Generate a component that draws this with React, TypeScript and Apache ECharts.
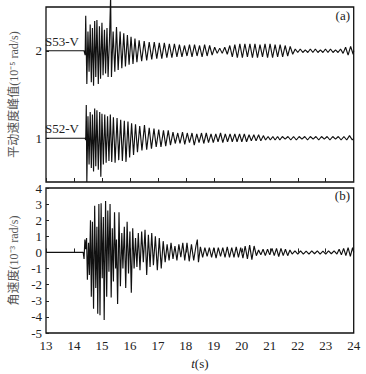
import React, { useEffect, useRef } from "react";
import * as echarts from "echarts";

const xTicks = [13, 14, 15, 16, 17, 18, 19, 20, 21, 22, 23, 24];
const topYTicks = [1, 2];

const S53: [number, number][] = [
  [13.0, 2.0], [14.36, 2.0],
  [14.40, 1.95], [14.42, 2.40], [14.46, 1.62], [14.50, 2.22], [14.54, 1.76], [14.58, 2.30], [14.62, 1.64],
  [14.66, 2.26], [14.70, 1.60], [14.74, 2.34], [14.78, 1.70], [14.82, 2.35], [14.87, 1.62], [14.91, 2.28],
  [14.95, 1.68], [15.00, 2.32], [15.04, 1.72], [15.09, 2.24], [15.13, 1.74], [15.18, 2.26], [15.22, 1.70],
  [15.27, 2.14], [15.31, 2.62], [15.34, 1.70],
  [15.40, 2.22], [15.46, 1.76], [15.52, 2.27], [15.58, 1.78], [15.65, 2.22], [15.71, 1.80], [15.78, 2.20],
  [15.84, 1.82], [15.91, 2.18], [15.97, 1.84], [16.04, 2.16], [16.11, 1.85], [16.18, 2.14], [16.25, 1.87],
  [16.33, 2.12], [16.42, 1.88], [16.51, 2.11], [16.60, 1.89], [16.69, 2.10], [16.78, 1.90], [16.87, 2.10],
  [16.96, 1.91], [17.05, 2.09], [17.14, 1.91], [17.23, 2.09], [17.32, 1.92], [17.41, 2.08], [17.50, 1.92],
  [17.59, 2.08], [17.68, 1.93], [17.77, 2.07], [17.86, 1.93], [17.95, 2.06], [18.04, 1.94], [18.13, 2.07],
  [18.22, 1.93], [18.31, 2.07], [18.40, 1.94], [18.49, 2.06], [18.58, 1.93], [18.67, 2.07], [18.76, 1.94],
  [18.85, 2.06], [18.94, 1.95], [19.03, 2.04], [19.12, 1.97], [19.21, 2.03], [19.30, 1.97], [19.39, 2.04],
  [19.48, 1.96], [19.57, 2.06], [19.66, 1.93], [19.75, 2.07], [19.84, 1.92], [19.93, 2.08], [20.02, 1.92],
  [20.11, 2.08], [20.20, 1.93], [20.29, 2.08], [20.38, 1.92], [20.47, 2.08], [20.56, 1.92], [20.65, 2.07],
  [20.74, 1.93], [20.83, 2.08], [20.92, 1.92], [21.01, 2.08], [21.10, 1.92], [21.19, 2.07], [21.28, 1.93],
  [21.37, 2.07], [21.46, 1.93], [21.55, 2.06], [21.64, 1.94], [21.73, 2.05], [21.82, 1.96], [21.91, 2.02],
  [22.00, 1.98], [22.09, 2.02], [22.18, 1.98], [22.27, 2.01], [22.36, 1.98], [22.45, 2.02], [22.54, 1.98],
  [22.63, 2.02], [22.72, 1.98], [22.81, 2.01], [22.90, 1.98], [22.99, 2.02], [23.08, 1.98], [23.17, 2.02],
  [23.26, 1.98], [23.35, 2.01], [23.44, 1.98], [23.53, 2.02], [23.62, 1.97], [23.71, 2.04], [23.80, 1.95],
  [23.89, 2.05], [23.98, 1.96], [24.0, 2.0],
];

const S52: [number, number][] = [
  [13.0, 1.0], [14.40, 1.0],
  [14.42, 0.98], [14.44, 1.38], [14.46, 0.50], [14.50, 1.25], [14.54, 0.70], [14.58, 1.30], [14.62, 0.66],
  [14.66, 1.27], [14.70, 0.62], [14.74, 1.34], [14.78, 0.68], [14.82, 1.32], [14.87, 0.64], [14.92, 1.30],
  [14.96, 0.56], [15.00, 1.28], [15.05, 0.70], [15.10, 1.27], [15.15, 0.72], [15.20, 1.25], [15.25, 0.74],
  [15.30, 1.27], [15.35, 0.73],
  [15.41, 1.24], [15.47, 0.72], [15.54, 1.23], [15.60, 0.75], [15.67, 1.21], [15.73, 0.74], [15.80, 1.20],
  [15.86, 0.73], [15.93, 1.19], [15.99, 0.78], [16.06, 1.17], [16.13, 0.81], [16.20, 1.16], [16.27, 0.84],
  [16.35, 1.14], [16.43, 0.86], [16.52, 1.15], [16.60, 0.87], [16.69, 1.12], [16.77, 0.88], [16.86, 1.11],
  [16.94, 0.90], [17.03, 1.10], [17.11, 0.90], [17.20, 1.09], [17.28, 0.91], [17.37, 1.09], [17.45, 0.92],
  [17.54, 1.07], [17.62, 0.94], [17.71, 1.06], [17.79, 0.94], [17.88, 1.07], [17.96, 0.93], [18.05, 1.06],
  [18.13, 0.95], [18.22, 1.06], [18.30, 0.92], [18.39, 1.05], [18.47, 0.95], [18.56, 1.06], [18.64, 0.94],
  [18.73, 1.06], [18.81, 0.95], [18.90, 1.05], [18.98, 0.95], [19.07, 1.05], [19.15, 0.96], [19.24, 1.06],
  [19.32, 0.95], [19.41, 1.05], [19.49, 0.96], [19.58, 1.05], [19.66, 0.96], [19.75, 1.05], [19.83, 0.96],
  [19.92, 1.05], [20.00, 0.96], [20.09, 1.05], [20.17, 0.96], [20.26, 1.04], [20.34, 0.97], [20.43, 1.04],
  [20.51, 0.97], [20.60, 1.04], [20.68, 0.97], [20.77, 1.03], [20.85, 0.98], [20.94, 1.02], [21.02, 0.98],
  [21.11, 1.02], [21.19, 0.98], [21.28, 1.02], [21.36, 0.98], [21.45, 1.02], [21.55, 0.99], [21.65, 1.02],
  [21.75, 0.98], [21.85, 1.02], [21.95, 0.98], [22.05, 1.02], [22.15, 0.99], [22.25, 1.02], [22.35, 0.98],
  [22.45, 1.02], [22.55, 0.99], [22.65, 1.02], [22.75, 0.98], [22.85, 1.02], [22.95, 0.99], [23.05, 1.02],
  [23.15, 0.98], [23.25, 1.02], [23.35, 0.99], [23.45, 1.02], [23.55, 0.98], [23.65, 1.02], [23.75, 0.98],
  [23.85, 1.03], [23.95, 0.98], [24.0, 1.0],
];

const angular: [number, number][] = [
  [13.0, 0], [14.33, 0], [14.36, -0.4], [14.39, 0.8], [14.42, 0.2], [14.45, 0.9], [14.48, -1.7], [14.52, 0.6],
  [14.55, -1.4], [14.59, 2.0], [14.62, -2.75], [14.66, 1.9], [14.70, -3.5], [14.74, 2.9], [14.78, -2.2],
  [14.82, 1.6], [14.85, -3.8], [14.89, 3.0], [14.93, -3.9], [14.97, 3.05], [15.01, -1.6], [15.05, 2.2],
  [15.08, -4.2], [15.13, 3.2], [15.17, -2.75], [15.21, 2.6], [15.25, -1.2], [15.29, 3.0], [15.33, -2.8],
  [15.37, 1.5], [15.41, -1.8], [15.45, 2.5], [15.49, -1.0], [15.52, 0.8], [15.56, -3.2], [15.61, 2.5],
  [15.66, -2.1], [15.71, 1.2], [15.75, -1.0], [15.80, 1.6], [15.85, -2.2], [15.90, 1.9], [15.95, -1.3],
  [16.00, 1.3], [16.05, -2.5], [16.10, 1.5], [16.15, -1.0], [16.20, 0.9], [16.25, -0.9], [16.30, 1.2],
  [16.36, -1.1], [16.42, 1.3], [16.48, -0.6], [16.54, 1.4], [16.60, -1.4], [16.66, 1.1], [16.72, -0.9],
  [16.78, 1.2], [16.84, -0.8], [16.91, 1.0], [16.98, -1.1], [17.05, 0.9], [17.12, -1.0], [17.19, 0.7],
  [17.26, -0.6], [17.33, 0.5], [17.40, -0.5], [17.47, 0.6], [17.54, -0.4], [17.61, 0.4], [17.68, -0.5],
  [17.75, 0.5], [17.82, -0.3], [17.89, 0.6], [17.96, -0.5], [18.04, 0.6], [18.12, -0.55], [18.20, 0.5],
  [18.28, -0.5], [18.36, 0.4], [18.41, 0.8], [18.45, -0.6], [18.52, 0.35], [18.60, -0.3], [18.68, 0.3],
  [18.76, -0.25], [18.84, 0.3], [18.92, -0.3], [19.00, 0.3], [19.08, -0.35], [19.16, 0.3], [19.24, -0.25],
  [19.32, 0.3], [19.40, -0.3], [19.48, 0.35], [19.56, -0.3], [19.64, 0.3], [19.72, -0.3], [19.80, 0.35],
  [19.88, -0.3], [19.96, 0.3], [20.04, -0.35], [20.12, 0.4], [20.20, -0.4], [20.28, 0.45], [20.36, -0.45],
  [20.44, 0.4], [20.52, -0.2], [20.60, 0.15], [20.68, -0.15], [20.76, 0.2], [20.84, -0.2], [20.92, 0.2],
  [21.00, -0.15], [21.08, 0.25], [21.16, -0.2], [21.24, 0.25], [21.32, -0.25], [21.40, 0.25], [21.48, -0.2],
  [21.56, 0.2], [21.64, -0.2], [21.72, 0.15], [21.80, -0.1], [21.90, 0.1], [22.00, -0.1], [22.10, 0.1],
  [22.20, -0.1], [22.30, 0.08], [22.40, -0.1], [22.50, 0.1], [22.60, -0.08], [22.70, 0.1], [22.80, -0.1],
  [22.90, 0.08], [23.00, -0.1], [23.10, 0.1], [23.20, -0.08], [23.30, 0.1], [23.40, -0.1], [23.48, 0.2],
  [23.56, -0.15], [23.64, 0.25], [23.72, -0.2], [23.80, 0.3], [23.88, -0.25], [23.96, 0.3], [24.0, 0.0],
];

const serif = "'Liberation Serif', 'Times New Roman', serif";
const cjk = "'Liberation Serif', 'Noto Sans CJK SC', serif";

export default function App() {
  const ref = useRef<HTMLDivElement>(null);
  useEffect(() => {
    if (!ref.current) return;
    const chart = echarts.init(ref.current, undefined, { renderer: "svg" });
    const tick = { show: true, inside: true, length: 4, lineStyle: { color: "#222", width: 1 } };
    const lbl = { color: "#222", fontFamily: serif, fontSize: 13 };
    const line = { color: "#111", width: 1.15 };
    chart.setOption({
      animation: false,
      backgroundColor: "#fff",
      grid: [
        { left: 42.4, top: 7, width: 311.3, height: 175, show: true, borderColor: "#111", borderWidth: 1.3, backgroundColor: "transparent" },
        { left: 42.4, top: 188, width: 311.3, height: 145, show: true, borderColor: "#111", borderWidth: 1.3, backgroundColor: "transparent" },
      ],
      xAxis: [
        {
          gridIndex: 0, type: "value", min: 13, max: 24, interval: 1,
          axisLine: { show: false }, axisTick: { ...tick, customValues: xTicks }, axisLabel: { show: false }, splitLine: { show: false },
        },
        {
          gridIndex: 1, type: "value", min: 13, max: 24, interval: 1,
          axisLine: { show: false }, axisTick: { ...tick, customValues: xTicks },
          axisLabel: { ...lbl, margin: 6, customValues: xTicks }, splitLine: { show: false },
          name: "{i|t}(s)", nameLocation: "middle", nameGap: 24,
          nameTextStyle: { color: "#222", fontFamily: serif, fontSize: 13, rich: { i: { fontStyle: "italic", fontFamily: serif, fontSize: 13, color: "#222" } } },
        },
      ],
      yAxis: [
        {
          gridIndex: 0, type: "value", min: 0.5, max: 2.5,
          axisLine: { show: false }, axisTick: { ...tick, length: 3, customValues: topYTicks },
          axisLabel: { ...lbl, margin: 4, customValues: topYTicks }, splitLine: { show: false },
          name: "平动速度峰值(10⁻⁵ rad/s)", nameLocation: "middle", nameGap: 26,
          nameTextStyle: { color: "#555", fontFamily: cjk, fontSize: 12 },
        },
        {
          gridIndex: 1, type: "value", min: -5, max: 4, interval: 1,
          axisLine: { show: false }, axisTick: { ...tick, length: 3 },
          axisLabel: { ...lbl, margin: 4 }, splitLine: { show: false },
          name: "角速度(10⁻³ rad/s)", nameLocation: "middle", nameGap: 26,
          nameTextStyle: { color: "#555", fontFamily: cjk, fontSize: 12 },
        },
      ],
      series: [
        { type: "line", xAxisIndex: 0, yAxisIndex: 0, data: S53, showSymbol: false, symbol: "none", clip: false, lineStyle: line },
        { type: "line", xAxisIndex: 0, yAxisIndex: 0, data: S52, showSymbol: false, symbol: "none", clip: false, lineStyle: line },
        { type: "line", xAxisIndex: 1, yAxisIndex: 1, data: angular, showSymbol: false, symbol: "none", lineStyle: line },
      ],
      graphic: [
        { type: "text", left: 45, top: 35, style: { text: "S53-V", font: `13px ${serif}`, fill: "#222" } },
        { type: "text", left: 45, top: 122, style: { text: "S52-V", font: `13px ${serif}`, fill: "#222" } },
        { type: "text", right: 16, top: 9, style: { text: "(a)", font: `13px ${serif}`, fill: "#222" } },
        { type: "text", right: 16, top: 189, style: { text: "(b)", font: `13px ${serif}`, fill: "#222" } },
      ],
    });
    return () => chart.dispose();
  }, []);
  return <div ref={ref} style={{ position: "absolute", left: 0, top: 0, width: 366, height: 374 }} />;
}
